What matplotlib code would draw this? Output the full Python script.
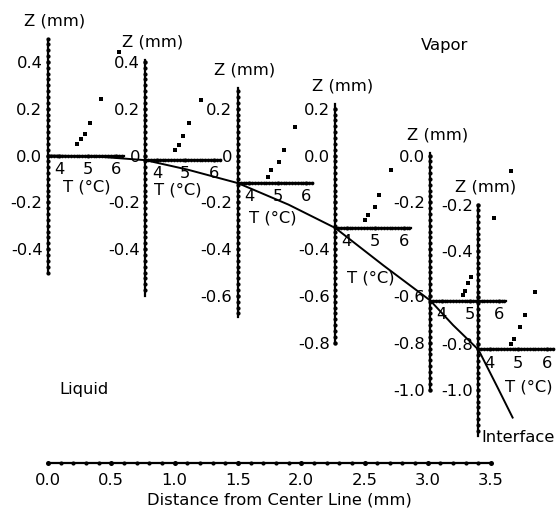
import matplotlib.pyplot as plt
import numpy as np

plt.rcParams['font.family'] = ['DejaVu Sans']
plt.rcParams['font.size'] = 11.8

# distance axis along the bottom (mm)
dist_ticks = [0.0, 0.5, 1.0, 1.5, 2.0, 2.5, 3.0, 3.5]

# shape of the liquid/vapor interface: distance (mm) vs height (mm)
curve_d = [0.0, 0.4, 0.77, 1.1, 1.5, 1.9, 2.27, 2.65, 3.02, 3.2, 3.4, 3.55, 3.67]
curve_z = [0.0, -0.005, -0.02, -0.06, -0.118, -0.21, -0.31, -0.47, -0.62, -0.725, -0.83, -0.99, -1.12]

# temperature probes: position, interface height, extent of the Z scale
probe_x = [0.0, 0.77, 1.5, 2.27, 3.02, 3.4]
probe_z0 = [0.0, -0.02, -0.118, -0.31, -0.62, -0.825]
z_lo = [-0.50, -0.60, -0.69, -0.80, -1.00, -1.20]
z_hi = [0.50, 0.41, 0.29, 0.22, 0.01, -0.21]

z_tick_vals = [
    [0.4, 0.2, 0.0, -0.2, -0.4],
    [0.4, 0.2, 0.0, -0.2, -0.4],
    [0.2, 0.0, -0.2, -0.4, -0.6],
    [0.2, 0.0, -0.2, -0.4, -0.6, -0.8],
    [0.0, -0.2, -0.4, -0.6, -0.8, -1.0],
    [-0.2, -0.4, -0.6, -0.8, -1.0],
]
z_tick_text = [
    ['0.4', '0.2', '0.0', '-0.2', '-0.4'],
    ['0.4', '0.2', '0', '-0.2', '-0.4'],
    ['0.2', '0', '-0.2', '-0.4', '-0.6'],
    ['0.2', '0.0', '', '-0.4', '-0.6', '-0.8'],
    ['0.0', '-0.2', '', '-0.6', '-0.8', '-1.0'],
    ['-0.2', '-0.4', '', '-0.8', '-1.0'],
]
t_ticks = [4, 5, 6]

# where the "T (°C)" caption goes: temperature and drop below the line (px)
t_label_pos = [(4.97, 31), (4.72, 30), (4.83, 35), (4.83, 50), None, (5.35, 38)]

# measured temperatures (°C) and heights (mm) in the vapor
temp_data = [
    [4.62, 4.76, 4.90, 5.07, 5.46, 6.09],
    [4.65, 4.76, 4.93, 5.14, 5.56],
    [4.65, 4.76, 5.04, 5.21, 5.60],
    [4.65, 4.76, 5.00, 5.14, 5.56],
    [4.76, 4.83, 4.93, 5.04, 5.85, 6.44],
    [4.76, 4.86, 5.07, 5.25, 5.60],
]
height_data = [
    [0.049, 0.071, 0.092, 0.139, 0.241, 0.442],
    [0.024, 0.045, 0.083, 0.139, 0.237],
    [-0.092, -0.062, -0.028, 0.024, 0.122],
    [-0.276, -0.254, -0.220, -0.169, -0.062],
    [-0.596, -0.579, -0.545, -0.519, -0.267, -0.066],
    [-0.801, -0.780, -0.729, -0.677, -0.579],
]

# drawing scales
PX_PER_MM_X = 126.6
PX_PER_MM_Z = 234.0
PX_PER_DEG = 28.5
T_MIN, T_MAX = 3.6, 6.25


def dot_ticks(axis, major_size=3.2, minor_size=3.0):
    for t in axis.get_major_ticks():
        t.tick1line.set_marker('o')
        t.tick1line.set_markersize(major_size)
        t.tick1line.set_markerfacecolor('k')
        t.tick1line.set_markeredgewidth(0)
    for t in axis.get_minor_ticks():
        t.tick1line.set_marker('o')
        t.tick1line.set_markersize(minor_size)
        t.tick1line.set_markerfacecolor('k')
        t.tick1line.set_markeredgewidth(0)


def add_probe(ax, i):
    lo, hi = z_lo[i], z_hi[i]
    width = (T_MAX - T_MIN) * PX_PER_DEG / PX_PER_MM_X
    sub = ax.inset_axes([probe_x[i], lo, width, hi - lo], transform=ax.transData)
    sub.set_xlim(T_MIN, T_MAX)
    sub.set_ylim(lo, hi)
    sub.patch.set_visible(False)
    sub.spines[['top', 'right']].set_visible(False)
    sub.spines['bottom'].set_position(('data', probe_z0[i]))
    sub.spines['bottom'].set_bounds(T_MIN, T_MAX)
    for s in ('left', 'bottom'):
        sub.spines[s].set_linewidth(1.6)

    sub.set_xticks(t_ticks, [str(v) for v in t_ticks])
    sub.set_xticks(np.arange(T_MIN, T_MAX + 1e-6, 0.1), minor=True)
    sub.set_yticks(z_tick_vals[i], z_tick_text[i])
    start = np.ceil(lo / 0.025) * 0.025
    sub.set_yticks(np.arange(start, hi + 1e-6, 0.025), minor=True)
    sub.tick_params(axis='x', which='both', length=2, pad=2.5)
    sub.tick_params(axis='y', which='both', length=2, pad=2.0)
    dot_ticks(sub.xaxis, 3.0, 2.6)
    dot_ticks(sub.yaxis, 3.2, 3.0)

    sub.plot(temp_data[i], height_data[i], 's', ms=2.2, color='k',
             mew=0, clip_on=False)

    sub.annotate('Z (mm)', xy=(0, 1), xycoords='axes fraction',
                 xytext=(7, 18), textcoords='offset pixels',
                 ha='center', va='center')
    if t_label_pos[i] is not None:
        t_at, drop = t_label_pos[i]
        sub.annotate('T (°C)', xy=(t_at, probe_z0[i]), xycoords='data',
                     xytext=(0, -drop), textcoords='offset pixels',
                     ha='center', va='center')
    return sub


def generate_chart():
    fig = plt.figure(figsize=(5.58, 5.16), dpi=100)
    ax = fig.add_axes([0, 0, 1, 1])
    ax.patch.set_visible(False)
    ax.set_xlim(-48 / PX_PER_MM_X, 510 / PX_PER_MM_X)
    ax.set_ylim(-(516 - 155.5) / PX_PER_MM_Z, 155.5 / PX_PER_MM_Z)

    ax.spines[['left', 'top', 'right']].set_visible(False)
    ax.spines['bottom'].set_position(('data', -1.314))
    ax.spines['bottom'].set_bounds(0, 3.5)
    ax.spines['bottom'].set_linewidth(1.6)
    ax.set_yticks([])
    ax.set_xticks(dist_ticks, [f'{v:.1f}' for v in dist_ticks])
    ax.set_xticks(np.arange(0, 3.5 + 1e-6, 0.1), minor=True)
    ax.tick_params(axis='x', which='both', length=3, pad=4.5)
    dot_ticks(ax.xaxis, 3.6, 3.0)
    ax.set_xlabel('Distance from Center Line (mm)', labelpad=3)

    ax.plot(curve_d, curve_z, color='k', lw=1.4)

    for i in range(len(probe_x)):
        add_probe(ax, i)

    ax.text(3.136, 0.472, 'Vapor', ha='center', va='center')
    ax.text(0.284, -1.002, 'Liquid', ha='center', va='center')
    ax.text(3.42, -1.203, 'Interface', ha='left', va='center')

    fig.savefig('out.png', dpi=100)
    plt.close(fig)


if __name__ == "__main__":
    generate_chart()
